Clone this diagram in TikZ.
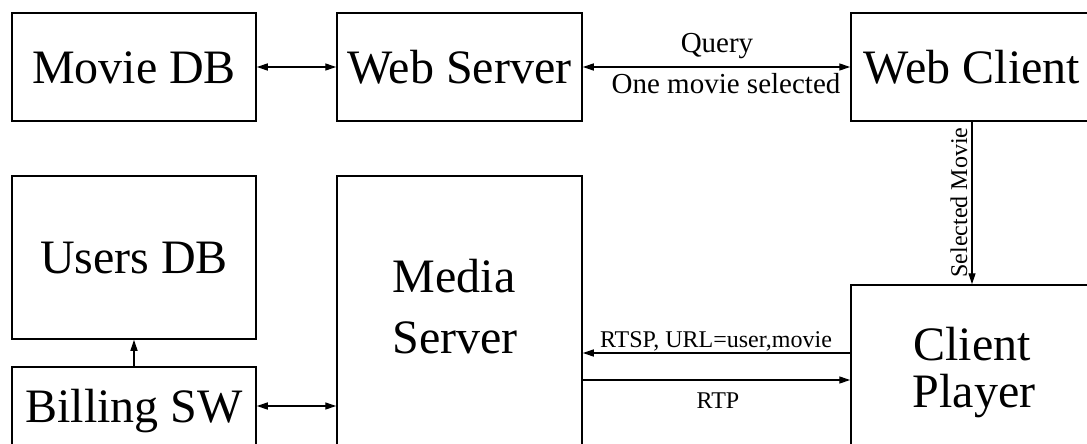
\documentclass[tikz,border=0pt]{standalone}
\usepackage{fontspec}
\setmainfont{Liberation Serif}
\usetikzlibrary{arrows.meta}
\begin{document}
\begin{tikzpicture}[x=1pt,y=-1pt,
  box/.style={draw, line width=1.5pt, rectangle, inner sep=0pt,
    font=\fontsize{48}{58}\selectfont, text height=32pt, text depth=0pt},
  bigtext/.style={font=\fontsize{48}{58}\selectfont, inner sep=0pt},
  tip/.tip={Triangle[length=11pt,width=7pt]},
  flow/.style={line width=1.3pt, -tip},
  twoway/.style={line width=1.3pt, tip-tip},
  lblA/.style={font=\fontsize{29}{34}\selectfont, inner sep=0pt},
  lblB/.style={font=\fontsize{24}{28}\selectfont, inner sep=0pt}]
\useasboundingbox (0,0) rectangle (1087,444);
\clip (0,0) rectangle (1087,444);
\fill[white] (0,0) rectangle (1087,444);

% top row
\node[box, minimum width=244pt, minimum height=108pt] (moviedb) at (134,67) {Movie DB};
\node[box, minimum width=245pt, minimum height=108pt] (webserver) at (459.5,67) {Web Server};
\node[box, minimum width=242pt, minimum height=108pt] (webclient) at (972,67) {Web Client};

% left column
\node[box, minimum width=244pt, minimum height=163pt] (usersdb) at (134,257.5) {Users DB};
\node[box, minimum width=244pt, minimum height=78pt] (billing) at (134,406) {Billing SW};

% media server and client player (run past the lower edge)
\node[box, minimum width=245pt, minimum height=294pt] (media) at (459.5,323) {};
\node[bigtext, anchor=base] (mediaA) at (454,292) {Media};
\node[bigtext, anchor=base] (mediaB) at (455,353) {Server};

\node[box, minimum width=242pt, minimum height=185pt] (player) at (972,377.5) {};
\node[bigtext, anchor=base] (playerA) at (972,360) {Client};
\node[bigtext, anchor=base] (playerB) at (974,407) {Player};

% connectors
\draw[twoway] (moviedb.east) -- (webserver.west);
\draw[twoway] (webserver.east) -- (webclient.west);
\draw[flow] (webclient.south) -- (player.north);
\draw[flow] (billing.north) -- (usersdb.south);
\draw[twoway] (billing.east) -- (media.west |- billing.east);
\draw[flow] (player.west |- 0,353) -- (media.east |- 0,353);
\draw[flow] (media.east |- 0,380) -- (player.west |- 0,380);

% connector labels
\node[lblA, anchor=base] (query) at (717,53) {Query};
\node[lblA, anchor=base] (onesel) at (726,93) {One movie selected};
\node[lblB, anchor=base, rotate=90] (selmovie) at (967,202.5) {Selected Movie};
\node[lblB, anchor=base] (rtsp) at (716,347) {RTSP, URL=user,movie};
\node[lblB, anchor=base] (rtp) at (718,408) {RTP};
\end{tikzpicture}
\end{document}
